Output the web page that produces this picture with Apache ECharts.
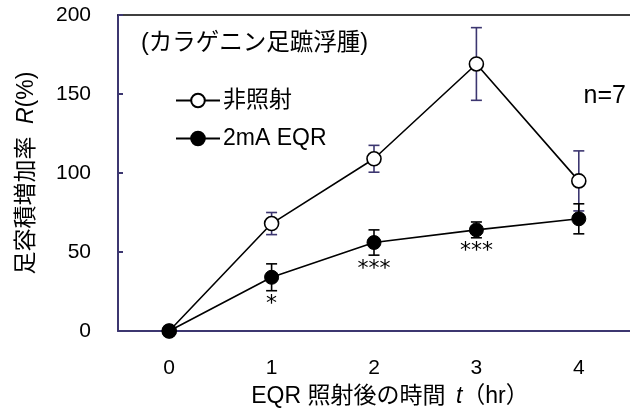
<!DOCTYPE html>
<html>
<head>
<meta charset="utf-8">
<script src="https://cdn.jsdelivr.net/npm/echarts@6/dist/echarts.min.js"></script>
<style>
  html, body { margin: 0; padding: 0; background: #fff; }
  #chart { width: 630px; height: 414px; }
</style>
</head>
<body>
<div id="chart"></div>
<script>
// Paw volume increase after carrageenan injection, per hour after EQR irradiation
const hours = ['0', '1', '2', '3', '4'];
const controlName = '非照射';
const controlMean = [0, 68, 109, 169, 95];
const controlErr = [0, 7, 8.5, 23, 19];
const eqrName = '2mA EQR';
const eqrMean = [0, 34, 56, 64, 71];
const eqrErr = [0, 8.5, 8, 5, 9.5];
const eqrSignificance = ['', '*', '***', '***', ''];

const FONT = '"Liberation Sans", "Noto Sans CJK JP", sans-serif';
const AXIS_COLOR = '#3c3670';

const chart = echarts.init(document.getElementById('chart'), null, { renderer: 'canvas' });

// Vertical error bar with caps, drawn behind the markers
function errorBarSeries(means, errs, color, z) {
  return {
    type: 'custom',
    z: z,
    silent: true,
    data: means.map((m, i) => [i, m, errs[i]]),
    encode: { x: 0, y: 1 },
    renderItem(params, api) {
      const i = api.value(0), m = api.value(1), e = api.value(2);
      if (!e) return null;
      const top = api.coord([i, m + e]);
      const bot = api.coord([i, m - e]);
      const hw = 5.5;
      const style = { stroke: color, lineWidth: 1.6 };
      return {
        type: 'group',
        children: [
          { type: 'line', shape: { x1: top[0], y1: top[1], x2: bot[0], y2: bot[1] }, style },
          { type: 'line', shape: { x1: top[0] - hw, y1: top[1], x2: top[0] + hw, y2: top[1] }, style },
          { type: 'line', shape: { x1: bot[0] - hw, y1: bot[1], x2: bot[0] + hw, y2: bot[1] }, style }
        ]
      };
    }
  };
}

// Significance marks placed under the lower end of each error bar
const significanceSeries = {
  type: 'custom',
  z: 6,
  silent: true,
  data: eqrMean.map((m, i) => [i, m, eqrErr[i]]),
  encode: { x: 0, y: 1 },
  renderItem(params, api) {
    const mark = eqrSignificance[params.dataIndex];
    if (!mark) return null;
    const p = api.coord([api.value(0), api.value(1) - api.value(2)]);
    return {
      type: 'text',
      x: p[0],
      y: p[1] + 3,
      style: {
        text: mark,
        fill: '#000',
        font: '22px "DejaVu Sans", sans-serif',
        align: 'center',
        verticalAlign: 'top'
      }
    };
  }
};

const option = {
  backgroundColor: '#fff',
  animation: false,
  textStyle: { fontFamily: FONT, color: '#000' },
  title: {
    text: '(カラゲニン足蹠浮腫)',
    left: 136,
    top: 27,
    textStyle: { fontFamily: FONT, fontSize: 23.5, fontWeight: 'normal', color: '#000' }
  },
  graphic: [{
    type: 'text',
    right: 4,
    top: 84,
    style: { text: 'n=7', font: '25px "Liberation Sans", sans-serif', fill: '#000' }
  }],
  legend: {
    orient: 'vertical',
    left: 170,
    top: 84,
    itemWidth: 44,
    itemHeight: 17,
    itemGap: 15,
    selectedMode: false,
    textStyle: { fontFamily: FONT, fontSize: 23, color: '#000', padding: [0, 0, 0, -2] },
    data: [controlName, eqrName]
  },
  grid: { left: 118, top: 15, width: 524, height: 316, containLabel: false },
  xAxis: [{
    type: 'category',
    data: hours,
    boundaryGap: true,
    position: 'bottom',
    axisLine: { lineStyle: { color: AXIS_COLOR, width: 2 } },
    axisTick: { inside: true, length: 7, lineStyle: { color: AXIS_COLOR, width: 2 } },
    axisLabel: { fontFamily: FONT, fontSize: 21, color: '#000', margin: 27 },
    splitLine: { show: false },
    name: 'EQR 照射後の時間 {i|t}（hr）',
    nameLocation: 'middle',
    nameGap: 54,
    nameTextStyle: {
      fontFamily: FONT, fontSize: 23, color: '#000',
      padding: [0, 0, 0, 32],
      rich: { i: { fontFamily: '"Liberation Sans", sans-serif', fontStyle: 'italic', fontSize: 23, padding: [0, 0, 0, 4] } }
    }
  }, {
    type: 'category',
    data: hours,
    position: 'top',
    axisLine: { lineStyle: { color: '#000', width: 1.6 } },
    axisTick: { show: false },
    axisLabel: { show: false }
  }],
  yAxis: {
    type: 'value',
    min: 0,
    max: 200,
    interval: 50,
    axisLine: { show: true, lineStyle: { color: AXIS_COLOR, width: 2 } },
    axisTick: { show: true, inside: true, length: 5, lineStyle: { color: AXIS_COLOR, width: 2 } },
    axisLabel: { fontFamily: FONT, fontSize: 21, color: '#000', margin: 27 },
    splitLine: { show: false },
    name: '足容積増加率 {i|R}(%)',
    nameLocation: 'middle',
    nameGap: 80,
    nameRotate: 90,
    nameTextStyle: {
      fontFamily: FONT, fontSize: 23, color: '#000',
      rich: { i: { fontFamily: '"Liberation Sans", sans-serif', fontStyle: 'italic', fontSize: 23, padding: [0, 0, 0, 6] } }
    }
  },
  series: [
    errorBarSeries(controlMean, controlErr, AXIS_COLOR, 2),
    errorBarSeries(eqrMean, eqrErr, '#000', 3),
    {
      name: controlName,
      type: 'line',
      z: 4,
      data: controlMean,
      symbol: 'circle',
      symbolSize: 14,
      lineStyle: { color: '#000', width: 1.6 },
      itemStyle: { color: '#fff', borderColor: '#000', borderWidth: 1.6 }
    },
    {
      name: eqrName,
      type: 'line',
      z: 5,
      data: eqrMean,
      symbol: 'circle',
      symbolSize: 14,
      lineStyle: { color: '#000', width: 1.6 },
      itemStyle: { color: '#000', borderColor: '#000', borderWidth: 1 }
    },
    significanceSeries
  ]
};

chart.setOption(option);
</script>
</body>
</html>
